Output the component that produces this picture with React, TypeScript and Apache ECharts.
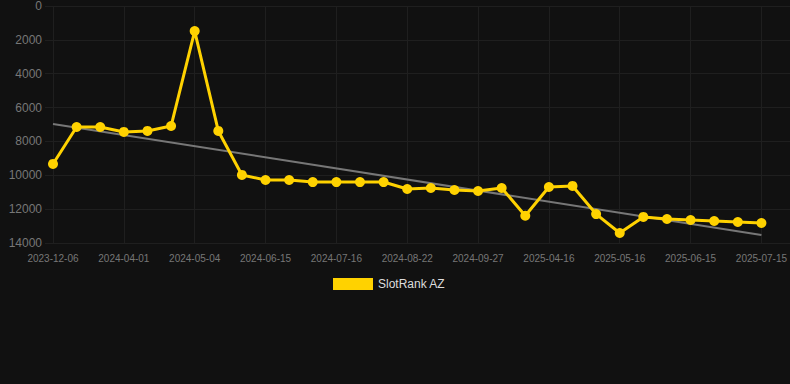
import React, { useEffect, useRef } from "react";
import * as echarts from "echarts";

const categories = [
  "2023-12-06", "2024-01-15", "2024-02-20", "2024-04-01", "2024-04-10", "2024-04-22",
  "2024-05-04", "2024-05-15", "2024-05-30", "2024-06-15", "2024-06-25", "2024-07-05",
  "2024-07-16", "2024-07-27", "2024-08-08", "2024-08-22", "2024-09-03", "2024-09-15",
  "2024-09-27", "2024-10-10", "2025-03-20", "2025-04-16", "2025-04-26", "2025-05-06",
  "2025-05-16", "2025-05-26", "2025-06-05", "2025-06-15", "2025-06-25", "2025-07-05",
  "2025-07-15",
];

const rankValues = [
  9330, 7150, 7150, 7440, 7380, 7090, 1480, 7380, 9980, 10280, 10280, 10400, 10400,
  10400, 10400, 10810, 10750, 10870, 10930, 10750, 12390, 10690, 10630, 12290, 13410,
  12460, 12580, 12640, 12700, 12760, 12820,
];

const trendEnds = [6970, 13530];

const yTicks = { min: 0, max: 14000, interval: 2000 };

export default function App() {
  const ref = useRef<HTMLDivElement>(null);
  useEffect(() => {
    if (!ref.current) return;
    const chart = echarts.init(ref.current, null, { renderer: "svg" });
    const trend = categories.map((_, i) =>
      i === 0 ? trendEnds[0] : i === categories.length - 1 ? trendEnds[1] : null
    );
    const splitColor = "#1f1f1f";
    chart.setOption({
      animation: false,
      backgroundColor: "#111111",
      textStyle: { fontFamily: "Liberation Sans, Arial, sans-serif" },
      grid: [
        { left: 45, right: 0, top: 6, bottom: 141, containLabel: false },
        { left: 53, right: 28, top: 6, bottom: 141, containLabel: false },
      ],
      legend: {
        data: [{ name: "SlotRank AZ", icon: "rect" }],
        left: 333,
        top: 278,
        padding: 0,
        itemWidth: 40,
        itemHeight: 12,
        itemGap: 10,
        textStyle: { color: "#dddddd", fontSize: 12 },
      },
      xAxis: [
        { type: "value", gridIndex: 0, show: false, min: 0, max: 1 },
        {
          type: "category",
          gridIndex: 1,
          data: categories,
          boundaryGap: false,
          axisLine: { show: false },
          axisTick: { show: false },
          axisLabel: { color: "#777777", fontSize: 10, interval: 2, margin: 10 },
          splitLine: { show: true, interval: 2, lineStyle: { color: splitColor, width: 1 } },
        },
      ],
      yAxis: [
        {
          type: "value",
          gridIndex: 0,
          inverse: true,
          min: yTicks.min,
          max: yTicks.max,
          interval: yTicks.interval,
          axisLine: { show: false },
          axisTick: { show: false },
          axisLabel: {
            color: "#777777",
            fontSize: 12,
            margin: 3,
            formatter: (v: number) => String(v),
          },
          splitLine: { lineStyle: { color: splitColor, width: 1 } },
        },
        {
          type: "value",
          gridIndex: 1,
          inverse: true,
          min: yTicks.min,
          max: yTicks.max,
          interval: yTicks.interval,
          show: false,
          splitLine: { show: false },
        },
      ],
      series: [
        {
          name: "Trend",
          type: "line",
          xAxisIndex: 1,
          yAxisIndex: 1,
          data: trend,
          connectNulls: true,
          showSymbol: false,
          symbol: "none",
          lineStyle: { color: "#777777", width: 2 },
          z: 1,
        },
        {
          name: "SlotRank AZ",
          type: "line",
          xAxisIndex: 1,
          yAxisIndex: 1,
          data: rankValues,
          symbol: "circle",
          symbolSize: 10,
          itemStyle: { color: "#FFD200" },
          lineStyle: { color: "#FFD200", width: 3 },
          z: 2,
        },
      ],
    });
    return () => chart.dispose();
  }, []);
  return (
    <div
      ref={ref}
      style={{ position: "absolute", left: 0, top: 0, width: 790, height: 384 }}
    />
  );
}
